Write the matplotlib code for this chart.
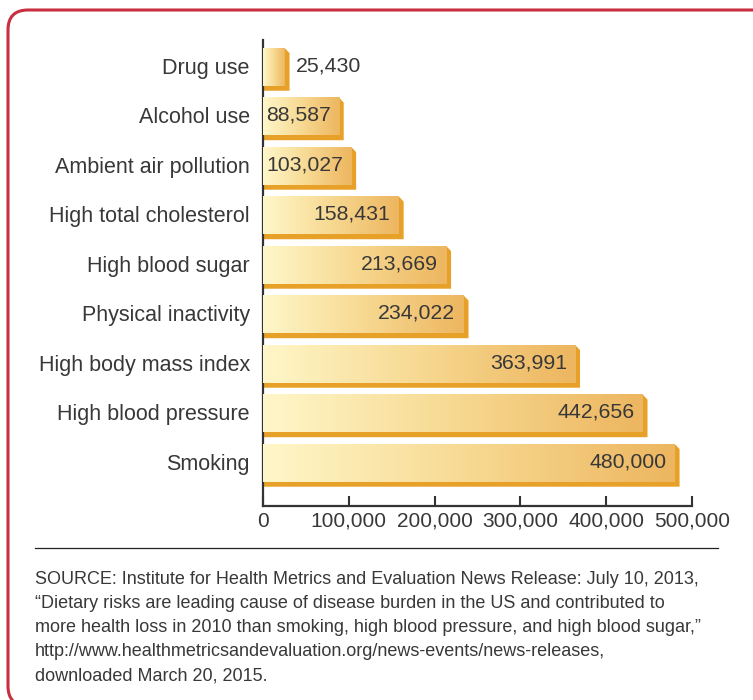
import numpy as np
import matplotlib.pyplot as plt
from matplotlib.colors import LinearSegmentedColormap
from matplotlib.patches import Polygon, FancyBboxPatch

# Данi
categories = ['Drug use', 'Alcohol use', 'Ambient air pollution', 'High total cholesterol',
              'High blood sugar', 'Physical inactivity', 'High body mass index',
              'High blood pressure', 'Smoking']
deaths = [25430, 88587, 103027, 158431, 213669, 234022, 363991, 442656, 480000]
xticks = [0, 100000, 200000, 300000, 400000, 500000]
source_lines = [
    'SOURCE: Institute for Health Metrics and Evaluation News Release: July 10, 2013,',
    '\u201cDietary risks are leading cause of disease burden in the US and contributed to',
    'more health loss in 2010 than smoking, high blood pressure, and high blood sugar,\u201d',
    'http://www.healthmetricsandevaluation.org/news-events/news-releases,',
    'downloaded March 20, 2015.',
]

plt.rcParams['font.family'] = ['Liberation Sans', 'DejaVu Sans']
txt = '#383838'

W, H = 753, 700
fig = plt.figure(figsize=(W / 100, H / 100), dpi=100)
ax = fig.add_axes([263 / W, 1 - 506 / H, (692 - 263) / W, 466 / H])

cmap = LinearSegmentedColormap.from_list('bar', ['#FFF7C9', '#F7D992', '#EDB660'])
grad = np.linspace(0, 1, 256).reshape(1, -1)
side = '#E8A128'

h = 0.76          # висота бару
dx = 5500         # змiщення тiнi по x
dy = 0.1          # змiщення тiнi по y

for i, v in enumerate(deaths):
    top = i - h / 2 + 0.02
    bot = i + h / 2 + 0.02
    shadow = Polygon([(0, bot), (0, bot + dy), (v + dx, bot + dy), (v + dx, top + dy), (v, top)],
                     closed=True, facecolor=side, edgecolor='none', zorder=2)
    ax.add_patch(shadow)
    ax.imshow(grad, cmap=cmap, aspect='auto', extent=[0, v, bot, top], zorder=3)
    label = f'{v:,}'
    if v < 50000:
        ax.text(v + 13000, i, label, ha='left', va='center', fontsize=15.3, color=txt, zorder=4)
    elif v < 120000:
        ax.text(4000, i, label, ha='left', va='center', fontsize=15.3, color=txt, zorder=4)
    else:
        ax.text(v - 10000, i, label, ha='right', va='center', fontsize=15.3, color=txt, zorder=4)

ax.set_xlim(0, 500000)
ax.set_ylim(8.89, -0.525)
ax.set_yticks(range(len(categories)))
ax.set_yticklabels(categories, fontsize=15.5, color=txt)
ax.set_xticks(xticks)
ax.set_xticklabels([f'{t:,}' for t in xticks], fontsize=15, color=txt)
ax.tick_params(axis='y', length=0, pad=9.5)
ax.tick_params(axis='x', direction='in', length=7.5, width=1.5, color='#333333', pad=4)
for s in ['top', 'right']:
    ax.spines[s].set_visible(False)
for s in ['left', 'bottom']:
    ax.spines[s].set_linewidth(1.6)
    ax.spines[s].set_color('#333333')

# Роздiлювач та джерело
fig.add_artist(plt.Line2D([35 / W, 718 / W], [1 - 548 / H, 1 - 548 / H], color='#222222', lw=0.9))
for k, line in enumerate(source_lines):
    fig.text(35 / W, 1 - (580 + 24 * k) / H, line, ha='left', va='center', fontsize=13, color=txt)

# Червона рамка
frame = FancyBboxPatch((0.08, -0.06), 7.8, 6.96, boxstyle='round,pad=0,rounding_size=0.2',
                       transform=fig.dpi_scale_trans, facecolor='none', edgecolor='#C8303F', lw=2.2)
fig.add_artist(frame)

fig.savefig('out.png', dpi=100)
